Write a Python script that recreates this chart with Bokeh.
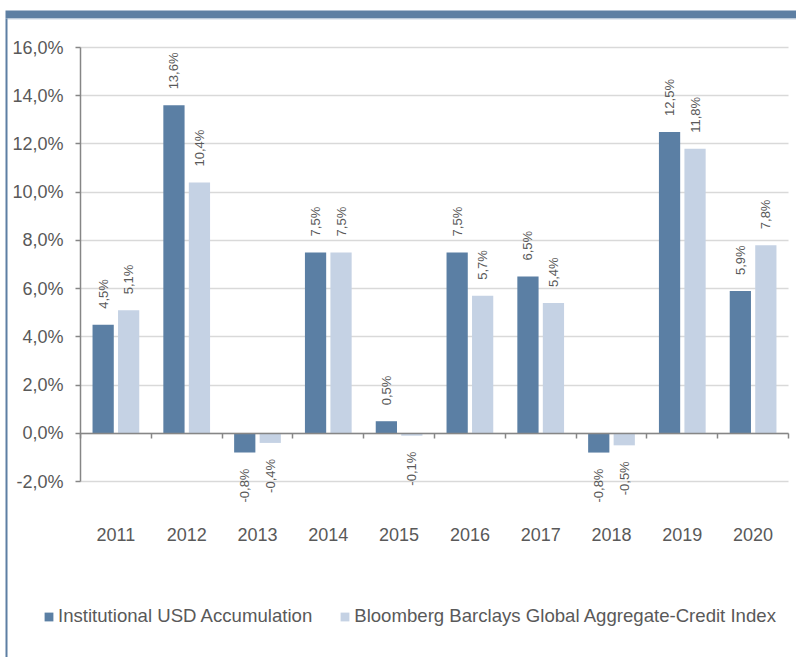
import math
from bokeh.plotting import figure
from bokeh.models import (FixedTicker, LinearAxis, Legend, LegendItem,
                          BoxAnnotation, ColumnDataSource, Range1d)
from bokeh.embed import file_html
from bokeh.resources import INLINE

years = ["2011", "2012", "2013", "2014", "2015", "2016", "2017", "2018", "2019", "2020"]
fund = [4.5, 13.6, -0.8, 7.5, 0.5, 7.5, 6.5, -0.8, 12.5, 5.9]
bench = [5.1, 10.4, -0.4, 7.5, -0.1, 5.7, 5.4, -0.5, 11.8, 7.8]
series_names = ["Institutional USD Accumulation",
                "Bloomberg Barclays Global Aggregate-Credit Index"]
y_ticks = [-2, 0, 2, 4, 6, 8, 10, 12, 14, 16]
y_tick_labels = ["-2,0%", "0,0%", "2,0%", "4,0%", "6,0%", "8,0%",
                 "10,0%", "12,0%", "14,0%", "16,0%"]

FONT = "Liberation Sans"
TEXT = "#595959"
AXIS = "#868686"
DARK = "#5b7fa4"
LIGHT = "#c5d2e4"
FRAME = "#5d7fa3"

W, H = 796, 657
# plot area in canvas pixels
PL, PR, PT, PB = 80, 788, 47, 481
n = len(years)
ymin, ymax = y_ticks[0], y_ticks[-1]
ppy = (PB - PT) / (ymax - ymin)
ppx = (PR - PL) / n
x_range = Range1d(-PL / ppx, (W - PL) / ppx)
y_range = Range1d(ymin - (H - PB) / ppy, ymax + PT / ppy)

OFF = 0.18
BW = 0.3

def fmt(v):
    return f"{v:.1f}".replace(".", ",") + "%"

centers = [i + 0.5 for i in range(n)]

p = figure(width=W, height=H, output_backend="svg", toolbar_location=None,
           x_range=x_range, y_range=y_range, x_axis_location=None,
           min_border=0, min_border_left=0, min_border_right=0,
           min_border_top=0, min_border_bottom=0)
p.outline_line_color = None
p.background_fill_color = "white"
p.border_fill_color = "white"

# y axis
p.yaxis.fixed_location = 0
p.yaxis.bounds = (ymin, ymax)
p.yaxis.ticker = FixedTicker(ticks=y_ticks)
p.yaxis.major_label_overrides = {t: l for t, l in zip(y_ticks, y_tick_labels)}
p.yaxis.axis_line_color = AXIS
p.yaxis.axis_line_width = 1.5
p.yaxis.major_tick_line_color = AXIS
p.yaxis.major_tick_line_width = 1.5
p.yaxis.major_tick_out = 5
p.yaxis.major_tick_in = 0
p.yaxis.minor_tick_line_color = None
p.yaxis.major_label_standoff = 12
p.yaxis.major_label_text_font = FONT
p.yaxis.major_label_text_font_size = "18px"
p.yaxis.major_label_text_color = TEXT

p.xgrid.grid_line_color = None
p.ygrid.ticker = FixedTicker(ticks=y_ticks)
p.ygrid.bounds = (ymin, ymax)
p.ygrid.grid_line_color = "#d9d9d9"
p.ygrid.grid_line_width = 1.5
try:
    p.ygrid.cross_bounds = (0, n)
except Exception:
    p.ygrid.grid_line_color = None
    p.segment(x0=[0] * len(y_ticks), x1=[n] * len(y_ticks), y0=y_ticks, y1=y_ticks,
              line_color="#d9d9d9", line_width=1.5)

# bars
src = ColumnDataSource(dict(
    x_fund=[c - OFF for c in centers], x_bench=[c + OFF for c in centers],
    fund=fund, bench=bench))
r1 = p.vbar(x="x_fund", top="fund", bottom=0, width=BW, source=src,
            fill_color=DARK, line_color=None)
r2 = p.vbar(x="x_bench", top="bench", bottom=0, width=BW, source=src,
            fill_color=LIGHT, line_color=None)

# category labels (axis anchored at zero, labels far below)
lab_axis = LinearAxis(fixed_location=0, ticker=FixedTicker(ticks=centers),
                      major_label_overrides={c: y for c, y in zip(centers, years)},
                      axis_line_color=None, major_tick_line_color=None,
                      minor_tick_line_color=None, major_label_standoff=89,
                      major_label_text_font=FONT, major_label_text_font_size="18px",
                      major_label_text_color=TEXT)
p.add_layout(lab_axis, "below")

# zero axis with category boundary ticks
zero_axis = LinearAxis(fixed_location=0, bounds=(0, n),
                       ticker=FixedTicker(ticks=list(range(n + 1))),
                       major_label_overrides={i: "" for i in range(n + 1)},
                       axis_line_color=AXIS, axis_line_width=1.5,
                       major_tick_line_color=AXIS, major_tick_line_width=1.5,
                       major_tick_out=5, major_tick_in=0,
                       minor_tick_line_color=None,
                       major_label_text_font_size="1px", major_label_standoff=0)
p.add_layout(zero_axis, "below")

# value labels
for xs, vals in (([c - OFF for c in centers], fund), ([c + OFF for c in centers], bench)):
    pos_x = [x for x, v in zip(xs, vals) if v >= 0]
    pos_v = [v for v in vals if v >= 0]
    neg_x = [x for x, v in zip(xs, vals) if v < 0]
    neg_v = [v for v in vals if v < 0]
    p.text(x=pos_x, y=pos_v, text=[fmt(v) for v in pos_v], angle=math.pi / 2,
           text_align="left", text_baseline="middle", y_offset=-16,
           text_font_size="13px", text_color=TEXT, text_font={"value": FONT})
    p.text(x=neg_x, y=neg_v, text=[fmt(v) for v in neg_v], angle=math.pi / 2,
           text_align="right", text_baseline="middle", y_offset=16,
           text_font_size="13px", text_color=TEXT, text_font={"value": FONT})

# legend
legend = Legend(items=[LegendItem(label=series_names[0], renderers=[r1]),
                       LegendItem(label=series_names[1], renderers=[r2])],
                orientation="horizontal", location=(43, 30),
                glyph_width=11, glyph_height=11, label_standoff=4, spacing=27,
                padding=0, margin=0, border_line_color=None,
                background_fill_alpha=0,
                label_text_font=FONT, label_text_font_size="18.6px",
                label_text_color=TEXT)
p.add_layout(legend, "center")

# decorative frame
def canvas_box(l, r, t, b, color):
    p.add_layout(BoxAnnotation(left=l, right=r, top=t, bottom=b,
                               left_units="canvas", right_units="canvas",
                               top_units="canvas", bottom_units="canvas",
                               fill_color=color, fill_alpha=1, line_color=None))

canvas_box(5, W, 10, 18, FRAME)
canvas_box(7, W, 18, 19, "#c9d5e4")
canvas_box(5, 7, 18, H, FRAME)

open("out.html", "w").write(file_html(p, INLINE))
